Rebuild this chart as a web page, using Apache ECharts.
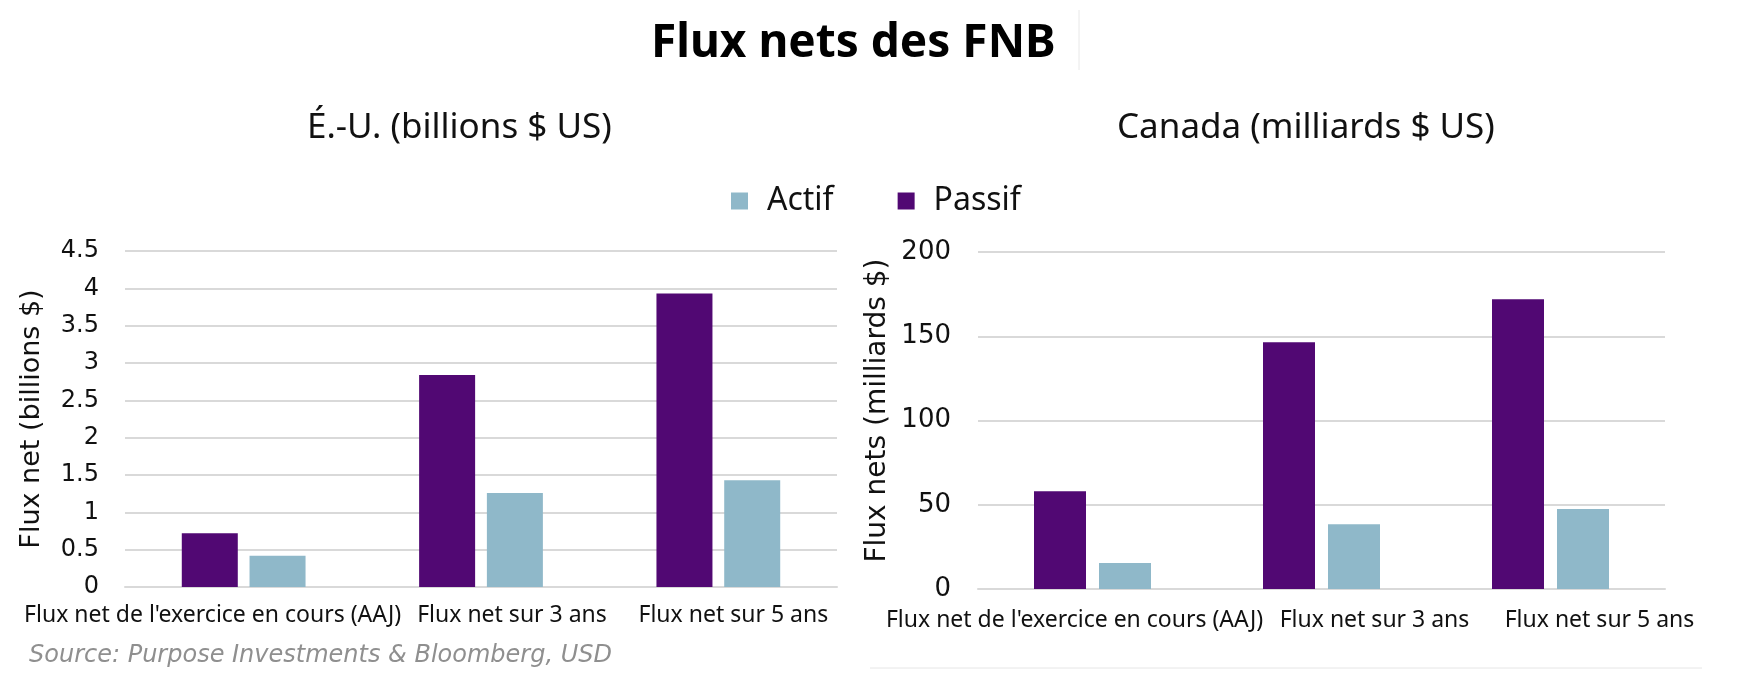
<!DOCTYPE html>
<html>
<head>
<meta charset="utf-8">
<script src="https://cdn.jsdelivr.net/npm/echarts@6/dist/echarts.min.js"></script>
<style>
  html, body { margin: 0; padding: 0; background: #fff; }
  #chart { width: 1750px; height: 682px; }
</style>
</head>
<body>
<div id="chart"></div>
<script>
// categories, same for both panels
const categories = [
  "Flux net de l'exercice en cours (AAJ)",
  'Flux net sur 3 ans',
  'Flux net sur 5 ans'
];

// É.-U. (billions $ US)
const usPassif = [0.72, 2.84, 3.93];
const usActif = [0.42, 1.26, 1.43];

// Canada (milliards $ US)
const caPassif = [58, 146.5, 172];
const caActif = [15.4, 38.5, 47.5];

const PURPLE = '#510873';
const BLUE = '#8fb8c9';
const GRID_GRAY = '#d9d9d9';

const chart = echarts.init(document.getElementById('chart'));

// labels are not centred under the bars in the original, shift them a bit
function shiftedLabels(shifts) {
  const rich = {};
  shifts.forEach((s, i) => {
    rich['c' + i] = {
      padding: s < 0 ? [0, -2 * s, 0, 0] : [0, 0, 0, 2 * s]
    };
  });
  return {
    formatter: (value, index) => '{c' + index + '|' + value + '}',
    rich: rich
  };
}

const leftShift = shiftedLabels([-31, 31, 15]);
const rightShift = shiftedLabels([-18, 53, 49]);

const option = {
  animation: false,
  backgroundColor: '#fff',
  title: [
    {
      text: 'Flux nets des FNB',
      left: 646,
      top: 16,
      textStyle: { fontFamily: 'Noto Sans', fontWeight: 'bold', fontSize: 46, color: '#000' }
    },
    {
      text: 'É.-U. (billions $ US)',
      left: 302,
      top: 106,
      textStyle: { fontFamily: 'Noto Sans', fontWeight: 'normal', fontSize: 35, color: '#111' }
    },
    {
      text: 'Canada (milliards $ US)',
      left: 1112,
      top: 106,
      textStyle: { fontFamily: 'Noto Sans', fontWeight: 'normal', fontSize: 35, color: '#111' }
    },
    {
      text: 'Source: Purpose Investments & Bloomberg, USD',
      left: 24,
      top: 639,
      textStyle: { fontFamily: 'DejaVu Sans', fontStyle: 'italic', fontWeight: 'normal', fontSize: 24, color: '#8f8f8f' }
    }
  ],
  legend: {
    data: ['Actif', 'Passif'],
    left: 726,
    top: 178,
    icon: 'rect',
    itemWidth: 17,
    itemHeight: 17,
    itemGap: 64,
    textStyle: { fontFamily: 'Noto Sans', fontSize: 32, lineHeight: 36, color: '#111', padding: [0, 0, 0, 14] }
  },
  graphic: [
    { type: 'line', shape: { x1: 1079, y1: 10, x2: 1079, y2: 70 }, style: { stroke: '#e8e8e8', lineWidth: 1 } },
    { type: 'line', shape: { x1: 870, y1: 668, x2: 1702, y2: 668 }, style: { stroke: '#e6e6e6', lineWidth: 1 } }
  ],
  grid: [
    { left: 125, top: 251, width: 712, height: 336 },
    { left: 978, top: 252, width: 687, height: 337 }
  ],
  xAxis: [
    {
      type: 'category',
      gridIndex: 0,
      data: categories,
      axisLine: { lineStyle: { color: GRID_GRAY, width: 2 } },
      axisTick: { show: false },
      axisLabel: Object.assign({
        interval: 0,
        margin: 17,
        fontFamily: 'Noto Sans',
        fontSize: 23,
        color: '#111'
      }, leftShift)
    },
    {
      type: 'category',
      gridIndex: 1,
      data: categories,
      axisLine: { lineStyle: { color: GRID_GRAY, width: 2 } },
      axisTick: { show: false },
      axisLabel: Object.assign({
        interval: 0,
        margin: 20,
        fontFamily: 'Noto Sans',
        fontSize: 23,
        color: '#111'
      }, rightShift)
    }
  ],
  yAxis: [
    {
      type: 'value',
      gridIndex: 0,
      min: 0,
      max: 4.5,
      interval: 0.5,
      name: 'Flux net (billions $)',
      nameLocation: 'middle',
      nameGap: 80,
      nameTextStyle: { fontFamily: 'DejaVu Sans', fontSize: 27, color: '#111' },
      axisLine: { show: false },
      axisTick: { show: false },
      axisLabel: { margin: 26, fontFamily: 'DejaVu Sans', fontSize: 24, color: '#111' },
      splitLine: { lineStyle: { color: GRID_GRAY, width: 2 } }
    },
    {
      type: 'value',
      gridIndex: 1,
      min: 0,
      max: 200,
      interval: 50,
      name: 'Flux nets (milliards $)',
      nameLocation: 'middle',
      nameGap: 86,
      nameTextStyle: { fontFamily: 'DejaVu Sans', fontSize: 28, color: '#111', padding: [0, 0, 0, 20] },
      axisLine: { show: false },
      axisTick: { show: false },
      axisLabel: { margin: 27, fontFamily: 'DejaVu Sans', fontSize: 26, color: '#111' },
      splitLine: { lineStyle: { color: GRID_GRAY, width: 2 } }
    }
  ],
  series: [
    {
      name: 'Passif', type: 'bar', xAxisIndex: 0, yAxisIndex: 0,
      data: usPassif, barWidth: 56, barGap: '21%',
      itemStyle: { color: PURPLE }
    },
    {
      name: 'Actif', type: 'bar', xAxisIndex: 0, yAxisIndex: 0,
      data: usActif, barWidth: 56, barGap: '21%',
      itemStyle: { color: BLUE }
    },
    {
      name: 'Passif', type: 'bar', xAxisIndex: 1, yAxisIndex: 1,
      data: caPassif, barWidth: 52, barGap: '25%',
      itemStyle: { color: PURPLE }
    },
    {
      name: 'Actif', type: 'bar', xAxisIndex: 1, yAxisIndex: 1,
      data: caActif, barWidth: 52, barGap: '25%',
      itemStyle: { color: BLUE }
    }
  ]
};

chart.setOption(option);
</script>
</body>
</html>
